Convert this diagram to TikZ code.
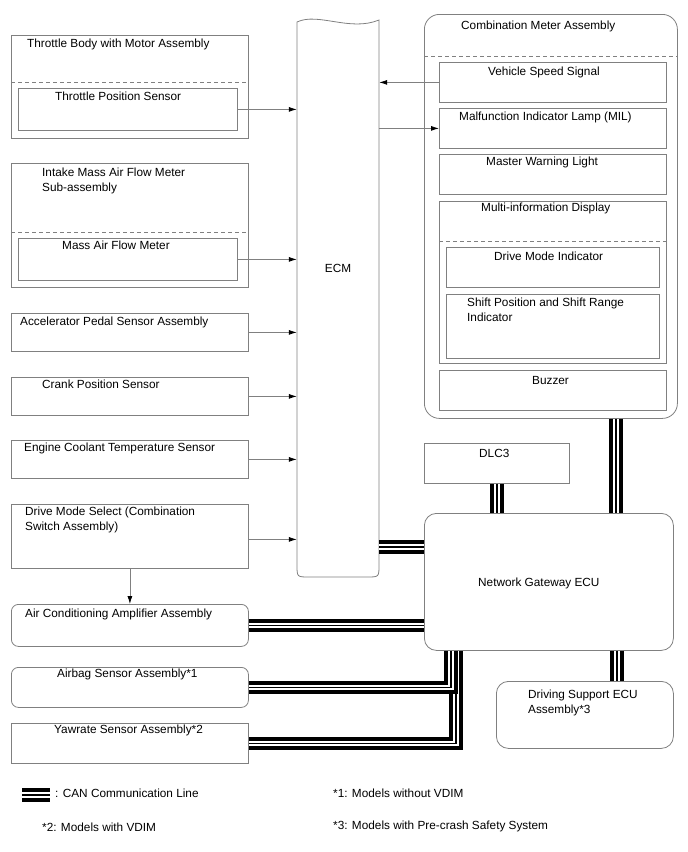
\documentclass[tikz,border=0pt]{standalone}
\usepackage{fontspec}
\setmainfont{Liberation Sans}
\usetikzlibrary{arrows.meta, positioning, calc}
\definecolor{boxline}{RGB}{128,128,128}

\tikzset{
    box/.style={draw=boxline, line width=0.8pt, fill=white, inner sep=0, anchor=north west},
    rbox/.style={box, rounded corners=#1},
    txt/.style={anchor=north west, inner sep=0, align=left},
    dashln/.style={draw=boxline, line width=0.8pt, dash pattern=on 4pt off 3pt},
    arr/.style={draw=boxline, line width=0.8pt, -{Latex[length=8pt, width=5pt, color=black]}},
    can/.style={line width=13.5pt, black,
        postaction={draw=white, line width=5.2pt},
        postaction={draw=black, line width=1.7pt}}
}

\begin{document}
\begin{tikzpicture}[x=1pt, y=-1pt, font=\fontsize{11.8}{14.5}\selectfont]
        \useasboundingbox (0,0) rectangle (688,852);

        % left side sensors
        \node[box, minimum width=237, minimum height=103] (tb) at (11,35) {};
        \draw[dashln] (11,82) -- (248,82);
        \node[box, minimum width=219, minimum height=42] (tps) at (18,88) {};
        \node[txt] at (27,39) {Throttle Body with Motor Assembly};
        \node[txt] at (55,92) {Throttle Position Sensor};

        \node[box, minimum width=237, minimum height=124] (maf) at (11,163) {};
        \draw[dashln] (11,232) -- (248,232);
        \node[box, minimum width=219, minimum height=42] (mafm) at (18,238) {};
        \node[txt] at (42,168) {Intake Mass Air Flow Meter\\Sub-assembly};
        \node[txt] at (62,241) {Mass Air Flow Meter};

        \node[box, minimum width=237, minimum height=38] (aps) at (11,313) {};
        \node[txt] at (20,317) {Accelerator Pedal Sensor Assembly};

        \node[box, minimum width=237, minimum height=38] (cps) at (11,377) {};
        \node[txt] at (42,380) {Crank Position Sensor};

        \node[box, minimum width=237, minimum height=38] (ect) at (11,440) {};
        \node[txt] at (24,443) {Engine Coolant Temperature Sensor};

        \node[box, minimum width=237, minimum height=64] (dms) at (11,504) {};
        \node[txt] at (25,507) {Drive Mode Select (Combination\\Switch Assembly)};

        \node[rbox=7, minimum width=237, minimum height=42] (aca) at (11,604) {};
        \node[txt] at (25,609) {Air Conditioning Amplifier Assembly};

        \node[rbox=7, minimum width=237, minimum height=40] (abg) at (11,667) {};
        \node[txt] at (57,669) {Airbag Sensor Assembly*1};

        \node[box, minimum width=237, minimum height=40] (yaw) at (11,723) {};
        \node[txt] at (54,725) {Yawrate Sensor Assembly*2};

        % ECM
        \node[inner sep=0, minimum width=82, minimum height=559] (ecm) at (338,297.5) {};
        \draw[boxline, line width=0.8pt] (297,22) .. controls (318,12) and (350,32) .. (379,20)
            -- (379,565) .. controls (379,577) .. (367,577) -- (309,577)
            .. controls (297,577) .. (297,565) -- cycle;
        \node at (338,268) {ECM};

        % combination meter
        \node[rbox=15, minimum width=253, minimum height=404] (cma) at (424,14) {};
        \draw[dashln] (424,56) -- (677,56);
        \node[txt] at (461,21) {Combination Meter Assembly};
        \node[box, minimum width=227, minimum height=40] (vss) at (439,62) {};
        \node[txt] at (488,67) {Vehicle Speed Signal};
        \node[box, minimum width=227, minimum height=40] (mil) at (439,108) {};
        \node[txt] at (459,112) {Malfunction Indicator Lamp (MIL)};
        \node[box, minimum width=227, minimum height=40] (mwl) at (439,154) {};
        \node[txt] at (486,157) {Master Warning Light};
        \node[box, minimum width=227, minimum height=162] (mid) at (439,201) {};
        \draw[dashln] (439,241) -- (666,241);
        \node[txt] at (481,203) {Multi-information Display};
        \node[box, minimum width=213, minimum height=40] (dmi) at (446,247) {};
        \node[txt] at (494,252) {Drive Mode Indicator};
        \node[box, minimum width=213, minimum height=64] (spi) at (446,294) {};
        \node[txt] at (467,298) {Shift Position and Shift Range\\Indicator};
        \node[box, minimum width=227, minimum height=40] (buz) at (439,370) {};
        \node[txt] at (532,376) {Buzzer};

        % gateway side
        \node[box, minimum width=145, minimum height=40] (dlc) at (424,443) {};
        \node[txt] at (479,449) {DLC3};
        \node[rbox=12, minimum width=249, minimum height=137] (gw) at (424,513) {};
        \node[txt] at (478,578) {Network Gateway ECU};
        \node[rbox=12, minimum width=177, minimum height=67] (dse) at (496,681) {};
        \node[txt] at (528,690) {Driving Support ECU\\Assembly*3};

        % signal arrows
        \draw[arr] (tps.east) -- (tps.east -| ecm.west);
        \draw[arr] (mafm.east) -- (mafm.east -| ecm.west);
        \draw[arr] (aps.east) -- (aps.east -| ecm.west);
        \draw[arr] (cps.east) -- (cps.east -| ecm.west);
        \draw[arr] (ect.east) -- (ect.east -| ecm.west);
        \draw[arr] ([yshift=-3pt]dms.east) -- ([yshift=-3pt]dms.east -| ecm.west);
        \draw[arr] (dms.south) -- (aca.north -| dms.south);
        \draw[arr] (vss.west) -- (vss.west -| ecm.east);
        \draw[arr] (mil.west -| ecm.east) -- (mil.west);

        % CAN lines
        \coordinate (cmx) at (616,0);
        \coordinate (ecy) at (0,547);
        \coordinate (abx) at (451,0);
        \coordinate (ywx) at (456,0);
        \coordinate (dsx) at (617,0);
        \draw[can] (cma.south -| cmx) -- (gw.north -| cmx);
        \draw[can] (dlc.south) -- (gw.north -| dlc.south);
        \draw[can] (ecm.east |- ecy) -- (gw.west |- ecy);
        \draw[can] (aca.east) -- (aca.east -| gw.west);
        \draw[can] (gw.south -| ywx) |- (yaw.east);
        \draw[can] (gw.south -| abx) |- (abg.east);
        \draw[can] (gw.south -| dsx) -- (dse.north -| dsx);

        % legend
        \coordinate (lga) at (22,795);
        \coordinate (lgb) at (50,795);
        \draw[can] (lga) -- (lgb);
        \node[txt] at (55,789) {: CAN Communication Line};
        \node[txt] at (42,823) {*2: Models with VDIM};
        \node[txt] at (333,789) {*1: Models without VDIM};
        \node[txt] at (333,821) {*3: Models with Pre-crash Safety System};

    \end{tikzpicture}
\end{document}
